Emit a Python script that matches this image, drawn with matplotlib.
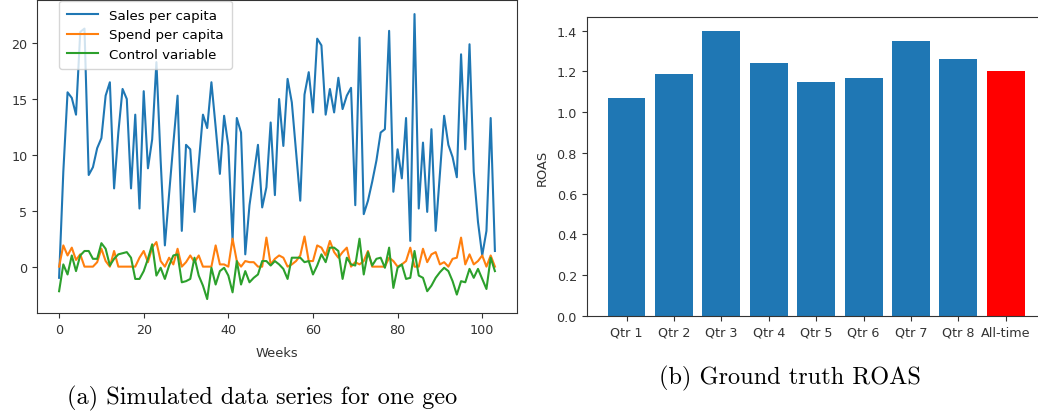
import matplotlib
matplotlib.use("Agg")
import matplotlib.pyplot as plt
import numpy as np

# ---------------- data ----------------
weeks = list(range(104))

sales_per_capita = [
    -1.0, 8.5, 15.6, 15.1, 13.6, 21.0, 21.3, 8.2, 8.9, 10.6,
    11.5, 15.3, 16.5, 7.0, 12.0, 15.9, 15.0, 7.0, 13.6, 5.2,
    15.7, 8.8, 11.4, 18.3, 9.5, 1.9, 6.5, 11.0, 15.3, 3.2,
    10.9, 10.5, 4.9, 9.2, 13.6, 12.4, 16.5, 12.5, 8.3, 13.5,
    10.8, 2.3, 13.3, 12.0, 1.1, 5.5, 8.2, 10.9, 5.3, 7.1,
    12.9, 6.4, 15.0, 10.8, 16.8, 14.7, 10.3, 5.9, 15.4, 17.4,
    13.8, 20.4, 19.8, 13.6, 15.9, 13.8, 16.9, 14.1, 15.3, 16.0,
    5.5, 20.5, 4.7, 5.9, 7.6, 9.5, 12.0, 12.3, 21.1, 6.7,
    10.5, 7.9, 13.3, 2.3, 22.6, 5.2, 11.1, 4.9, 12.3, 3.2,
    8.3, 13.5, 10.9, 9.8, 8.0, 19.0, 10.5, 19.9, 8.5, 4.0,
    1.0, 3.2, 13.3, 1.4,
]

spend_per_capita = [
    0.0, 1.9, 1.0, 1.7, 0.6, 1.1, 0.0, 0.0, 0.0, 0.4,
    1.6, 0.5, 0.0, 1.4, 0.0, 0.0, 0.0, 0.0, 0.0, 0.8,
    1.4, 0.4, 1.7, 2.2, 0.5, 0.0, 0.8, 0.2, 1.6, 0.0,
    0.4, 1.0, 0.4, 1.0, 0.0, 0.0, 0.0, 1.9, 0.2, 0.2,
    0.0, 2.5, 0.5, 0.0, 0.5, 0.4, 0.4, 0.0, 0.0, 2.6,
    0.2, 0.7, 1.0, 0.8, 0.0, 0.2, 0.5, 1.0, 2.7, 0.5,
    0.5, 1.9, 1.7, 1.0, 2.3, 1.3, 0.8, 1.3, 1.7, 0.0,
    0.4, 0.2, 0.5, 1.4, 0.0, 0.0, 0.0, 0.0, 0.8, 0.5,
    0.0, 0.2, 0.5, 1.7, 0.0, 0.0, 1.6, 0.4, 1.1, 1.3,
    0.2, 0.4, 0.0, 0.7, 0.8, 2.6, 0.2, 1.1, 0.2, 0.5,
    1.0, 0.0, 1.0, 0.0,
]

control_variable = [
    -2.2, 0.2, -0.7, 1.0, -0.4, 1.0, 1.4, 1.4, 0.7, 0.7,
    2.1, 1.6, 0.1, 0.7, 1.1, 1.2, 1.3, 0.8, -1.1, -1.1,
    -0.4, 0.7, 2.0, -0.8, -0.1, -1.1, 0.1, 1.0, 1.1, -1.4,
    -1.3, -1.1, 0.8, -0.8, -1.7, -2.9, -0.1, -1.6, -0.4, -0.1,
    -0.8, -2.3, 0.5, -1.6, -0.4, -1.4, -1.0, -0.7, 0.5, 0.5,
    0.1, 0.5, 0.2, -0.2, -1.1, 0.8, 0.8, 0.8, 0.4, 0.5,
    -0.7, 0.1, 1.1, 0.4, 1.7, 1.7, 1.4, -1.1, 0.8, 0.2,
    0.1, 2.5, -0.7, 1.3, 0.1, 0.7, 0.8, -0.1, 1.7, -1.9,
    -0.1, 0.2, -1.1, -1.0, 1.4, -0.8, -1.0, -2.2, -1.7, -1.0,
    -0.5, -0.1, -0.4, -1.3, -2.5, -1.3, -1.4, -0.2, -1.0, -0.2,
    -1.1, -2.0, 0.8, -0.4,
]

roas_labels = ["Qtr 1", "Qtr 2", "Qtr 3", "Qtr 4", "Qtr 5",
               "Qtr 6", "Qtr 7", "Qtr 8", "All-time"]
roas_values = [1.071, 1.187, 1.397, 1.241, 1.147, 1.166, 1.349, 1.261, 1.200]
roas_colors = ["#1f77b4"] * 8 + ["red"]

# ---------------- figure ----------------
W, H = 1038, 414
fig = plt.figure(figsize=(W / 100, H / 100), dpi=100)

tick_fs = 9.2

# left panel
ax1 = fig.add_axes([37.3 / W, 1 - 314.3 / H, (516.7 - 37.3) / W, 314.3 / H - 0.002])
ax1.plot(weeks, sales_per_capita, color="#1f77b4", lw=1.5, label="Sales per capita")
ax1.plot(weeks, spend_per_capita, color="#ff7f0e", lw=1.5, label="Spend per capita")
ax1.plot(weeks, control_variable, color="#2ca02c", lw=1.5, label="Control variable")
ax1.set_xticks([0, 20, 40, 60, 80, 100])
ax1.set_yticks([0, 5, 10, 15, 20])
ax1.tick_params(labelsize=tick_fs, colors="#333333", labelcolor="#333333")
ax1.set_xlabel("Weeks", fontsize=9.4, color="#333333", labelpad=7)
for s in ax1.spines.values():
    s.set_color("#333333")
leg = ax1.legend(loc="lower left", bbox_to_anchor=(0.0459, 0.7795), fontsize=9.6,
                 handlelength=2.3, handletextpad=0.85, borderpad=0.6,
                 borderaxespad=0.0)

# right panel
ax2 = fig.add_axes([586.7 / W, 1 - 317 / H, (1045.7 - 586.7) / W, (317 - 18) / H])
x = np.arange(len(roas_labels))
ax2.bar(x, roas_values, width=0.8, color=roas_colors)
ax2.set_xticks(x)
ax2.set_xticklabels(roas_labels)
ax2.set_yticks([0.0, 0.2, 0.4, 0.6, 0.8, 1.0, 1.2, 1.4])
ax2.set_ylim(0, 1.467)
ax2.set_xlim(-0.84, 8.84)
ax2.tick_params(labelsize=tick_fs, colors="#333333", labelcolor="#333333")
ax2.set_ylabel("ROAS", fontsize=9.4, color="#333333", labelpad=6)
for s in ax2.spines.values():
    s.set_color("#333333")

# captions
fig.text(262 / W, 1 - 398 / H, "(a) Simulated data series for one geo",
         fontfamily="cmr10", fontsize=17.5, ha="center", va="center")
fig.text(790 / W, 1 - 378 / H, "(b) Ground truth ROAS",
         fontfamily="cmr10", fontsize=17.5, ha="center", va="center")

fig.savefig("out.png", dpi=100)
